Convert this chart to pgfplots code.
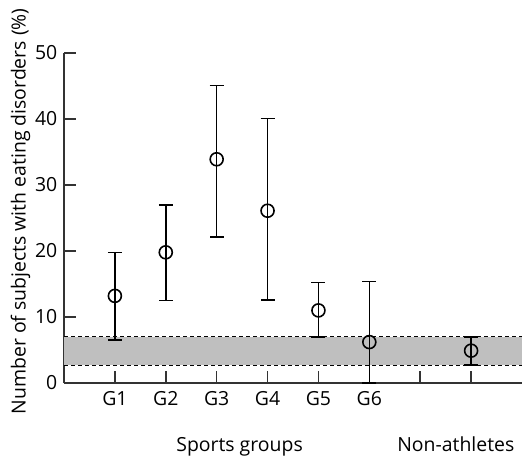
\documentclass[border=0pt]{standalone}
\usepackage{fontspec}
\setmainfont{Open Sans}
\usepackage{pgfplots}
\pgfplotsset{compat=1.18}
\begin{document}
\fontsize{19.5}{23}\selectfont
\begin{tikzpicture}
\useasboundingbox (-64bp,-74bp) rectangle (458bp,383bp);
\begin{axis}[
  at={(0,0)}, anchor=south west,
  scale only axis, width=458bp, height=330bp,
  xmin=0, xmax=9, ymin=0, ymax=50,
  axis lines=left,
  axis line style={-, line width=1.6bp, black!80},
  xtick={1,2,3,4,5,6,7,8},
  xticklabels={G1,G2,G3,G4,G5,G6,,},
  ytick={0,10,20,30,40,50},
  tick align=inside,
  major tick length=12bp,
  tick style={line width=1.6bp, black!80},
  /pgf/number format/assume math mode=true,
  tick label style={font=\fontsize{19.5}{23}\selectfont},
  xticklabel style={yshift=-2bp},
  ylabel={Number of subjects with eating disorders (\%)},
  ylabel style={at={(axis description cs:-0.095,0.52)}, anchor=center, font=\fontsize{19.5}{23}\selectfont},
  clip=false,
]
\addplot[fill=black!25, draw=none] coordinates {(0,2.7) (9,2.7) (9,7) (0,7)} -- cycle;
\addplot[black, line width=1.1bp, dash pattern=on 4bp off 3bp] coordinates {(0,7) (9,7)};
\addplot[black, line width=1.1bp, dash pattern=on 4bp off 3bp] coordinates {(0,2.7) (9,2.7)};
\addplot[only marks, mark=o, mark size=6.5bp, mark options={fill=white, draw=black, line width=1.6bp},
  error bars/.cd, y dir=both, y explicit,
  error bar style={line width=1.6bp, black},
  error mark options={mark size=7bp, line width=1.6bp, black, rotate=90}]
  table[x=x, y=y, y error plus=ep, y error minus=em] {
x y ep em
1 13.2 6.6 6.7
2 19.8 7.2 7.3
3 33.9 11.2 11.8
4 26.1 14.0 13.5
5 11.0 4.2 4.0
6 6.2 9.2 6.2
8 4.9 2.1 2.2
};
\node[anchor=base, yshift=-68bp] at (axis cs:3.45,0) {Sports groups};
\node[anchor=base east, yshift=-68bp, xshift=-1bp] at (axis cs:9,0) {Non-athletes};
\end{axis}
\end{tikzpicture}
\end{document}
